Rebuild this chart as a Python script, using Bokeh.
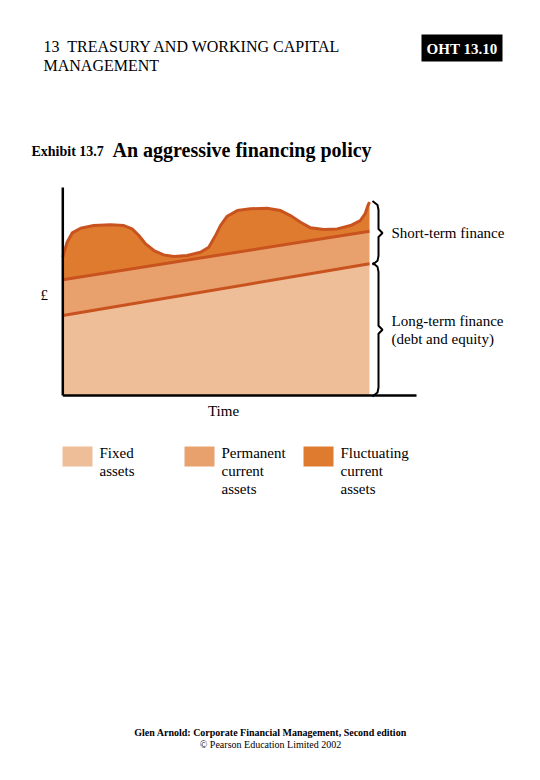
import numpy as np
from bokeh.plotting import figure
from bokeh.models import Range1d
from bokeh.core.properties import value
from bokeh.embed import file_html
from bokeh.resources import INLINE

# ---------------- data (time 0..10, £ 0..100) ----------------
time_ends = [0.0, 10.0]
fixed_assets_top = [38.5, 63.3]        # top of fixed assets (long-term finance line)
permanent_top = [55.6, 79.0]           # top of permanent current assets
fluct_x = [0.0, 0.14, 0.31, 0.58, 1.01, 1.56, 1.99, 2.26, 2.48, 2.70, 2.97,
           3.29, 3.62, 4.06, 4.49, 4.76, 4.98, 5.14, 5.36, 5.69, 6.12, 6.66,
           7.10, 7.42, 7.75, 8.08, 8.51, 8.95, 9.38, 9.70, 9.86, 9.94, 10.0]
fluct_y = [66.5, 73.7, 78.2, 80.4, 81.7, 82.1, 81.7, 80.1, 76.9, 72.9, 69.7,
           67.6, 66.8, 67.3, 68.9, 71.3, 76.9, 81.7, 86.2, 88.9, 89.8, 90.0,
           88.9, 86.5, 83.3, 80.6, 79.8, 80.1, 81.7, 84.1, 87.4, 91.0, 93.0]
legend_labels = [["Fixed", "assets"],
                 ["Permanent", "current", "assets"],
                 ["Fluctuating", "current", "assets"]]
legend_colors = ["#EEBE98", "#E8A06C", "#DF7B2F"]
brace_labels = [["Short-term finance"], ["Long-term finance", "(debt and equity)"]]

# ---------------- page geometry ----------------
W, H = 524, 764
X0_PX, XS = 62.3, 30.67      # page px of time 0, px per time unit
Y0_PX, YS = 395.0, 2.08      # page px of £ 0, px per £ unit
OFF = 0                      # page px of the canvas origin


def X(px):
    return (px - X0_PX) / XS


def Y(py):
    return (Y0_PX - py) / YS


FONT = value("Liberation Serif")
LINE_C = "#C9531F"

p = figure(width=W, height=H, output_backend="svg", toolbar_location=None,
           x_range=Range1d(X(OFF), X(OFF + W)), y_range=Range1d(Y(OFF + H), Y(OFF)),
           min_border=0, outline_line_color=None, background_fill_color="white")
p.axis.visible = False
p.grid.visible = False


def txt(px, py, s, size, bold=False, color="black", align="left"):
    p.text(x=[X(px)], y=[Y(py)], text=[s], text_font=FONT,
           text_font_size=f"{size}px", text_font_style="bold" if bold else "normal",
           text_color=color, text_align=align, text_baseline="middle")


# ---------------- header ----------------
txt(43, 46, "13\u00a0 TREASURY AND WORKING CAPITAL", 16)
txt(43, 65, "MANAGEMENT", 16)
p.quad(left=[X(421)], right=[X(502)], top=[Y(34)], bottom=[Y(61)],
       fill_color="black", line_color=None)
txt(461.5, 48, "OHT 13.10", 15, bold=True, color="white", align="center")
txt(31, 151, "Exhibit 13.7", 14, bold=True)
txt(112, 149, "An aggressive financing policy", 20, bold=True)

# ---------------- areas ----------------
p.varea(x=time_ends, y1=[0, 0], y2=fixed_assets_top, fill_color=legend_colors[0])
p.patch(x=time_ends + time_ends[::-1],
        y=fixed_assets_top + permanent_top[::-1],
        fill_color=legend_colors[1], line_color=None)
p.patch(x=fluct_x + time_ends[::-1],
        y=fluct_y + permanent_top[::-1],
        fill_color=legend_colors[2], line_color=None)
p.line(time_ends, fixed_assets_top, line_color=LINE_C, line_width=3)
p.line(time_ends, permanent_top, line_color=LINE_C, line_width=3)
p.line(fluct_x, fluct_y, line_color=LINE_C, line_width=3, line_join="round")

# ---------------- axes ----------------
p.line([0, 0], [0, Y(187)], line_color="black", line_width=2.5)
p.line([0, X(416)], [0, 0], line_color="black", line_width=2.5)
txt(40, 294, "£", 15)
txt(223, 410, "Time", 15, align="center")

# ---------------- braces ----------------
dx, dy = 1 / XS, 1 / YS
sx = X(378)


def brace(yt, yb):
    ym = (yt + yb) / 2
    xs = [sx - 6 * dx, sx - 1 * dx, sx, sx, sx + 4 * dx, sx, sx, sx - 1 * dx, sx - 6 * dx]
    ys = [yt + 1 * dy, yt - 3 * dy, yt - 8 * dy, ym + 4 * dy, ym, ym - 4 * dy,
          yb + 8 * dy, yb + 3 * dy, yb - 1 * dy]
    p.line(xs, ys, line_color="black", line_width=2)
    return ym


spans = [(fluct_y[-1], fixed_assets_top[-1]), (fixed_assets_top[-1], 0.0)]
for (yt, yb), labels in zip(spans, brace_labels):
    ym = brace(yt, yb)
    n = len(labels)
    for i, s in enumerate(labels):
        py = Y0_PX - ym * YS + (i - (n - 1) / 2) * 18
        txt(391, py, s, 15)

# ---------------- legend ----------------
leg_x = [62, 184, 303]
for lx, col, labels in zip(leg_x, legend_colors, legend_labels):
    p.quad(left=[X(lx)], right=[X(lx + 30)], top=[Y(446)], bottom=[Y(466)],
           fill_color=col, line_color=None)
    for i, s in enumerate(labels):
        txt(lx + 37, 452 + 18 * i, s, 15)

# ---------------- footer ----------------
txt(270, 732, "Glen Arnold: Corporate Financial Management, Second edition", 10,
    bold=True, align="center")
txt(270, 744, "© Pearson Education Limited 2002", 10, align="center")

open("out.html", "w").write(file_html(p, INLINE))
